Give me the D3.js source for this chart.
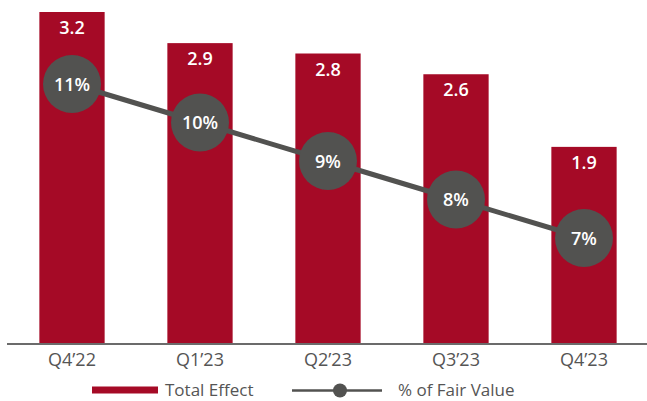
<!DOCTYPE html>
<html>
<head>
<meta charset="utf-8">
<script src="https://cdn.jsdelivr.net/npm/d3@7"></script>
<style>
  html, body { margin: 0; padding: 0; background: #fff; }
  svg { display: block; font-family: "Open Sans", Lato, sans-serif; }
</style>
</head>
<body>
<svg id="chart" width="647" height="401"></svg>
<script>
const categories = ["Q4\u201922", "Q1\u201923", "Q2\u201923", "Q3\u201923", "Q4\u201923"];
const totalEffect = [3.2, 2.9, 2.8, 2.6, 1.9];
const pctFairValue = [11, 10, 9, 8, 7];
const barLabels = ["3.2", "2.9", "2.8", "2.6", "1.9"];
const pctLabels = ["11%", "10%", "9%", "8%", "7%"];
const legendLabels = ["Total Effect", "% of Fair Value"];

const RED = "#A50A26", GRAY = "#525250", AXIS = "#6b6b6b", TXT = "#555555";
const FONT = "'Open Sans', Lato, sans-serif";
const svg = d3.select("#chart");
const baseline = 344;

const x = d3.scaleBand().domain(categories).range([8, 648]).paddingInner(0.49).paddingOuter(0.245);
const y = d3.scaleLinear().domain([0, 3.2]).range([baseline, 12]);
const y2 = d3.scaleLinear().domain([7, 11]).range([238, 84]);

// bars
svg.append("g").selectAll("rect").data(totalEffect).join("rect")
  .attr("x", (d, i) => x(categories[i]))
  .attr("y", d => y(d))
  .attr("width", x.bandwidth())
  .attr("height", d => baseline - y(d))
  .attr("fill", RED);

// bar labels
svg.append("g").selectAll("text").data(totalEffect).join("text")
  .attr("x", (d, i) => x(categories[i]) + x.bandwidth() / 2)
  .attr("y", d => y(d) + 22)
  .attr("text-anchor", "middle")
  .attr("fill", "#fff")
  .attr("font-size", 18)
  .attr("font-weight", 600)
  .text((d, i) => barLabels[i]);

// axis
const xAxis = d3.axisBottom(x).tickSize(0).tickPadding(9);
const ax = svg.append("g").attr("transform", `translate(0,${baseline})`).call(xAxis);
ax.select(".domain").attr("d", "M7,0H647").attr("stroke", AXIS).attr("stroke-width", 2.2);
ax.selectAll("text").attr("font-size", 18).attr("font-weight", 500).attr("fill", TXT).attr("font-family", FONT);

// line
const cx = (i) => x(categories[i]) + x.bandwidth() / 2;
const line = d3.line().x((d, i) => cx(i)).y(d => y2(d));
svg.append("path").datum(pctFairValue).attr("d", line)
  .attr("fill", "none").attr("stroke", GRAY).attr("stroke-width", 5);

svg.append("g").selectAll("circle").data(pctFairValue).join("circle")
  .attr("cx", (d, i) => cx(i)).attr("cy", d => y2(d)).attr("r", 29)
  .attr("fill", GRAY);

svg.append("g").selectAll("text").data(pctFairValue).join("text")
  .attr("x", (d, i) => cx(i)).attr("y", d => y2(d) + 6.5)
  .attr("text-anchor", "middle").attr("fill", "#fff")
  .attr("font-size", 18).attr("font-weight", 600)
  .text((d, i) => pctLabels[i]);

// legend
const lg = svg.append("g");
lg.append("rect").attr("x", 92).attr("y", 386.5).attr("width", 66).attr("height", 7).attr("fill", RED);
lg.append("text").attr("x", 165).attr("y", 396).attr("font-size", 17).attr("font-weight", 500).attr("fill", TXT).text(legendLabels[0]);
lg.append("line").attr("x1", 292).attr("x2", 382).attr("y1", 390.5).attr("y2", 390.5)
  .attr("stroke", GRAY).attr("stroke-width", 2.5);
lg.append("circle").attr("cx", 340).attr("cy", 390.5).attr("r", 7).attr("fill", GRAY);
lg.append("text").attr("x", 398).attr("y", 396).attr("font-size", 17).attr("font-weight", 500).attr("fill", TXT).text(legendLabels[1]);
</script>
</body>
</html>
